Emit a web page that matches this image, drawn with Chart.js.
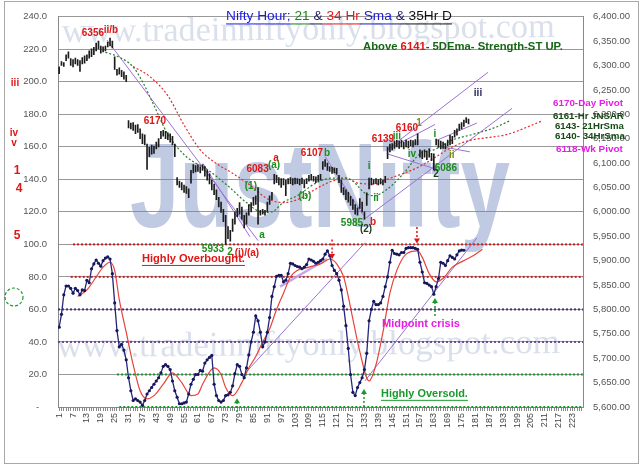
<!DOCTYPE html>
<html><head><meta charset="utf-8">
<script src="https://cdn.jsdelivr.net/npm/chart.js@4.4.1/dist/chart.umd.min.js"></script>
<style>html,body{margin:0;padding:0;background:#fff;}</style>
</head><body>
<canvas id="c" width="640" height="467"></canvas>
<script>
// ---------------- DATA ----------------
const xTickLabels = ['1','7','13','19','25','31','37','43','49','55','61','67','73','79','85','91','97','103','109','115','121','127','133','139','145','151','157','163','169','175','181','187','193','199','205','211','217','223'];
const categoryCount = 227;

// Nifty hourly bars (low / high), one per hour
const priceLow = [
6283,6300,6298,6310,6315,6300,6297,6303,6300,6288,
6303,6305,6310,6315,6318,6322,6330,6334,6325,6328,
6330,6338,6340,6336,6292,6280,6282,6277,6272,6267,
6172,6170,6167,6160,6163,6150,6140,6137,6087,6113,
6118,6120,6129,6133,6150,6155,6150,6148,6143,6137,
6113,6055,6050,6045,6040,6038,6029,6059,6080,6082,
6083,6080,6085,6073,6065,6057,6045,6035,6025,6010,
5999,5980,5933,5945,5940,5960,5975,5990,5995,5985,
5967,5975,5993,6000,6013,6015,5975,5993,5995,5993,
6000,6015,6025,6057,6060,6055,6050,6055,6033,6057,
6058,6055,6057,6058,6055,6058,6049,6058,6063,6065,
6063,6060,6063,6065,6087,6093,6085,6083,6079,6080,
6077,6060,6040,6035,6025,6020,6013,6005,5995,5993,
6007,6000,5985,6013,6047,6055,6057,6058,6055,6057,
6055,6060,6109,6123,6127,6130,6133,6130,6133,6129,
6133,6131,6135,6133,6137,6137,6112,6109,6112,6107,
6112,6105,6086,6137,6132,6129,6130,6129,6135,6137,
6140,6153,6157,6167,6170,6175,6183,6180];
const priceHigh = [
6297,6308,6306,6322,6328,6314,6312,6315,6312,6310,
6316,6320,6322,6330,6334,6337,6346,6350,6340,6338,
6340,6348,6356,6350,6318,6292,6295,6290,6287,6280,
6187,6182,6183,6178,6179,6170,6160,6158,6139,6132,
6137,6135,6143,6150,6165,6167,6165,6162,6160,6155,
6139,6070,6063,6060,6055,6052,6047,6085,6097,6095,
6097,6093,6097,6093,6085,6078,6065,6057,6045,6030,
6020,6005,5993,5970,5962,5985,6000,6007,6019,6010,
5993,5998,6015,6019,6030,6033,6050,6003,6005,6003,
6020,6033,6040,6077,6075,6070,6068,6068,6065,6068,
6070,6068,6069,6068,6067,6069,6065,6068,6075,6077,
6073,6072,6075,6077,6103,6107,6100,6093,6091,6090,
6089,6075,6065,6050,6045,6040,6032,6025,6015,6008,
6027,6020,6000,6039,6069,6069,6066,6068,6066,6068,
6065,6073,6133,6139,6140,6145,6147,6145,6147,6143,
6147,6145,6147,6146,6148,6160,6127,6125,6127,6125,
6129,6120,6119,6149,6147,6145,6143,6140,6147,6157,
6155,6167,6170,6180,6183,6188,6193,6190];

// Oscillator (left axis), one per hour
const oscillator = [
49.1,57,69,74.4,74.4,73,70,73,71.6,69,
72,71.6,77.9,76.4,85,88,90.4,88.4,86.6,90,
91.6,92.3,91,82,64,47,37,38.5,35,29,
18,10,4,5,4,3,1,4,8,10,
12,14,16,18,21,25,26,25,23,16,
10,6,2,2,2.5,3,8,14,17,20,
20,22.5,22,27,29,30.5,31.7,14,7,4,
3,4,7,7.5,9,13,20.5,26,25,20,
18,24,32,40,46,56,53,46,37,40,
46,55,68,74,80.4,81,81,77,78,82,
88.4,88,87,86.4,86,85,86,87.6,91,90.4,
89.6,88.4,89,90,91,94,96,93,87,84,
82,78,72,62,50,36,20,9,7,12,
15,18,23,33,53,60,65,63,63,64,
68,74,80,89,96.4,94.4,94,93.6,95,95,
97.5,98,98,98,97.5,97,89,83,76.4,76,
75,74,69.4,74,79,89,88.4,87,90,93,
92,91,93.6,96,96.5,96.4];

// Oscillator signal line (hour, value)
const signalHour = [9,13,17,20,23,25,27,30,33,36,39,42,46,50,54,58,61,63,68,71,73,76,80,83,86,89,92,95,98,101,104,109,114,118,121,124,126,128,131,135,138,141,144,147,151,156,158,161,164,167,171,176,180,184];
const signalValue = [68,72,80,86,89,84,66,46,26,10,5,7,14,21,15,7,8,14,24,20,12,7,15,24,31,40,48,60,70,80,84,86,88,91,88,80,68,54,34,16,26,46,70,84,94,96,92,82,77,79,86,90,93,97];

// 21 Hr SMA and 34 Hr SMA (hour, price)
const sma21Hour = [21,27,33,37,42,48,56,65,74,82,89,93,98,104,112,119,125,128,133,137,143,150,157,163,171,180,189,196];
const sma21Value = [6327,6317,6297,6267,6218,6159,6113,6087,6053,6019,5999,6000,6020,6033,6059,6069,6069,6063,6039,6033,6047,6079,6119,6127,6147,6159,6172,6187];
const sma34Hour = [33,40,48,55,62,69,76,84,91,98,105,112,119,125,130,138,143,150,157,164,171,179,186,195,203,210];
const sma34Value = [6298,6278,6238,6178,6127,6099,6079,6053,6027,6019,6027,6047,6063,6069,6059,6057,6067,6079,6093,6113,6133,6147,6152,6159,6173,6187];

// Oscillator zones
const levelValues = [100, 80, 60, 40, 20, 0];
const levelFrom   = [7, 6, 0.5, 0.5, 26, 27];

// Trend lines [hour1, value1, hour2, value2]
const priceTrendLines = [
  [21.7,6352, 87,5941],
  [63.2,6099, 83.5,5949],
  [116,6113, 132.5,5993],
  [142.7,6127, 186.4,6286],
  [132.4,5983, 196.8,6212],
  [142.7,6127, 163.5,6179],
  [142.7,6119, 164.4,6087],
  [164.4,6147, 181.6,6182],
  [167,6133, 178.6,6123]
];
const oscTrendLines = [
  [82.2,22, 133.2,101],
  [133.2,16, 181.6,104]
];
const oscTrendLinesLight = [
  [96.5,74, 116.8,91]
];

// Wave labels [text, hour, price]
const waveLabels = [
  ['6356',15.6,6366,'r'],['ii/b',23.4,6372,'r'],['6170',42.4,6185,'r'],['6083',86.8,6087,'r'],
  ['(1)',83.9,6053,'g'],['a',94.8,6110,'r'],['(a)',93.9,6096,'g'],['6107',110.3,6120,'r'],
  ['b',116.8,6120,'g'],['(b)',107.3,6031,'g'],['5933',67.5,5923,'g'],['2',74.9,5917,'g'],
  ['(i)/(a)',82.2,5916,'r'],['a',88.7,5953,'g'],['5985',127.6,5977,'g'],['(2)',133.7,5965,'k'],
  ['b',136.7,5979,'r'],['i',135,6093,'g'],['ii',138,6027,'g'],['6139',141,6149,'r'],
  ['iii',147,6155,'g'],['6160',151.4,6171,'r'],['1',156.6,6181,'o'],['iv',153.5,6119,'g'],
  ['6086',168.2,6089,'g'],['2',163.9,6077,'k'],['i',163.5,6159,'g'],['ii',170.8,6115,'o'],
  ['iii',182.1,6244,'n']
];
// Arrows on oscillator [hour, fromValue, toValue, colourKey]
const oscArrows = [[119,103,91,'r'],[155.7,110.7,100.5,'r'],[77.9,-3,5.4,'g'],[132.8,0,11,'g'],[163.5,56,67,'g']];

// ---------------- STYLE ----------------
const FONT = '"Liberation Sans", Arial, sans-serif';
const COL = {r:'#e01515', g:'#1c8c1c', k:'#1c3c1c', o:'#7d8a10', n:'#2a2a60'};
const levelColors = ['#d41c1c','#d41c1c','#4b2a6e','#6a4a8e','#1a9a2a','#1a9a2a'];
const PURPLE = '#9b72d6';

const pts = (xs, ys) => xs.map((x,i)=>({x, y: ys[i]}));
const datasets = [];

datasets.push({type:'line', yAxisID:'yL', data: oscillator.map((v,i)=>({x:i+1,y:v})),
  borderColor:'#25257a', borderWidth:1.3, pointRadius:1.6, pointBackgroundColor:'#17175a',
  pointBorderWidth:0, tension:0, order:1});
datasets.push({type:'line', yAxisID:'yL', data: pts(signalHour, signalValue),
  borderColor:'#e8433a', borderWidth:1.2, pointRadius:0, cubicInterpolationMode:'monotone', order:2});
datasets.push({type:'bar', yAxisID:'yR', data: priceLow.map((lo,i)=>({x:i+1, y:[lo, priceHigh[i]]})),
  backgroundColor:'#1c1c1c', barThickness:1, order:3});
datasets.push({type:'line', yAxisID:'yR', data: pts(sma21Hour, sma21Value),
  borderColor:'#2b7d2b', borderWidth:1.2, borderDash:[2,2], pointRadius:0, cubicInterpolationMode:'monotone', order:4});
datasets.push({type:'line', yAxisID:'yR', data: pts(sma34Hour, sma34Value),
  borderColor:'#e52a2a', borderWidth:1.2, borderDash:[2,2], pointRadius:0, cubicInterpolationMode:'monotone', order:5});
priceTrendLines.forEach(t => datasets.push({type:'line', yAxisID:'yR', data:[{x:t[0],y:t[1]},{x:t[2],y:t[3]}],
  borderColor:PURPLE, borderWidth:1, pointRadius:0, order:6}));
oscTrendLines.forEach(t => datasets.push({type:'line', yAxisID:'yL', data:[{x:t[0],y:t[1]},{x:t[2],y:t[3]}],
  borderColor:PURPLE, borderWidth:1, pointRadius:0, order:6}));
oscTrendLinesLight.forEach(t => datasets.push({type:'line', yAxisID:'yL', data:[{x:t[0],y:t[1]},{x:t[2],y:t[3]}],
  borderColor:'rgba(190,160,230,0.9)', borderWidth:2.5, pointRadius:0, order:6}));
levelValues.forEach((v,i) => datasets.push({type:'line', yAxisID:'yL', data:[{x:levelFrom[i],y:v},{x:227.5,y:v}],
  borderColor:levelColors[i], borderWidth:2, borderDash:[2,2], pointRadius:0, order:7, clip:false}));

// ---------------- PLUGINS ----------------
function fitText(ctx, segs, x, y, width, weight, underline) {
  const full = segs.map(s=>s[0]).join('');
  ctx.font = `${weight} 20px ${FONT}`;
  const size = 20 * width / ctx.measureText(full).width;
  ctx.font = `${weight} ${size}px ${FONT}`;
  ctx.textBaseline = 'middle'; ctx.textAlign = 'left';
  let cx = x;
  segs.forEach(([t,c]) => {
    ctx.fillStyle = c; ctx.fillText(t, cx, y);
    const w = ctx.measureText(t).width;
    if (underline) { ctx.strokeStyle = c; ctx.lineWidth = 1; ctx.setLineDash([]);
      ctx.beginPath(); ctx.moveTo(cx, y + size*0.58); ctx.lineTo(cx + w, y + size*0.58); ctx.stroke(); }
    cx += w;
  });
}

const bgPlugin = {
  id:'bg',
  beforeDraw(chart) {
    const c = chart.ctx; c.save();
    c.fillStyle = '#fff'; c.fillRect(0,0,chart.width,chart.height);
    c.strokeStyle = '#a8a8a8'; c.lineWidth = 1;
    c.strokeRect(4.5, 1.5, 634, 462);
    c.restore();
  }
};

const watermarkPlugin = {
  id:'wm',
  beforeDatasetsDraw(chart) {
    const c = chart.ctx; c.save();
    const url = 'www.tradeinniftyonly.blogspot.com';
    c.fillStyle = 'rgba(130,150,190,0.30)';
    c.textBaseline = 'alphabetic'; c.textAlign = 'left';
    [[62,42,493,-0.01],[57,357,503,-0.008]].forEach(([x,y,w,rot]) => {
      c.save(); c.translate(x,y); c.rotate(rot);
      c.font = '30px "Liberation Serif", "DejaVu Serif", serif';
      const m = c.measureText(url).width;
      c.font = (30*w/m) + 'px "Liberation Serif", "DejaVu Serif", serif';
      c.fillText(url, 0, 0); c.restore();
    });
    c.save();
    c.font = 'bold 121px "Liberation Sans", Arial, sans-serif';
    const jw = c.measureText('JustNifty').width;
    c.translate(130, 227); c.scale(380/jw, 1);
    c.fillStyle = 'rgba(105,128,185,0.42)';
    c.fillText('JustNifty', 0, 0);
    c.restore();
    c.restore();
  }
};

const annotPlugin = {
  id:'annot',
  afterDraw(chart) {
    const c = chart.ctx, sx = chart.scales.x, sR = chart.scales.yR, sL = chart.scales.yL;
    c.save();
    c.textAlign = 'center'; c.textBaseline = 'middle';
    waveLabels.forEach(([t,h,p,k]) => {
      c.font = `bold 10px ${FONT}`; c.fillStyle = COL[k];
      c.fillText(t, sx.getPixelForValue(h), sR.getPixelForValue(p));
    });
    oscArrows.forEach(([h,a,b,k]) => {
      const x = sx.getPixelForValue(h), y1 = sL.getPixelForValue(a), y2 = sL.getPixelForValue(b);
      const col = k==='r' ? '#e01515' : '#1a9a2a';
      c.strokeStyle = col; c.fillStyle = col; c.lineWidth = 1.5; c.setLineDash([2,2]);
      const dir = Math.sign(y2 - y1);
      c.beginPath(); c.moveTo(x, y1); c.lineTo(x, y2 - dir*4); c.stroke();
      c.setLineDash([]);
      c.beginPath(); c.moveTo(x-3, y2 - dir*5); c.lineTo(x+3, y2 - dir*5); c.lineTo(x, y2); c.closePath(); c.fill();
    });
    c.textAlign = 'center';
    [['iii',15,83,10],['iv',14,133,10],['v',14,143,10],['1',17,171,12],['4',19,189,12],['5',17,236,12]].forEach(([t,x,y,s]) => {
      c.font = `bold ${s}px ${FONT}`; c.fillStyle = '#e01515'; c.fillText(t, x, y);
    });
    c.strokeStyle = '#1a9a2a'; c.lineWidth = 1.2; c.setLineDash([3,2]);
    c.beginPath(); c.arc(14, 297, 9, 0, Math.PI*2); c.stroke(); c.setLineDash([]);
    fitText(c, [['Nifty Hour;','#1a1ae6'],[' 21','#138a13'],[' &','#1a1a60'],[' 34 Hr','#ea1515'],[' Sma','#1a1ad0'],[' &','#1a1a60'],[' 35Hr D','#111']], 226, 16, 226, 'normal', true);
    fitText(c, [['Above ','#166616'],['6141','#e01515'],['- 5DEma- Strength-ST UP.','#166616']], 363, 47, 200, 'bold', false);
    fitText(c, [['6170-Day Pivot','#e41ee4']], 553, 103, 70, 'bold', false);
    fitText(c, [['6161-Hr JNSAR','#144a14']], 553, 116, 71, 'bold', false);
    fitText(c, [['6143- 21HrSma','#144a14']], 555, 126, 69, 'bold', false);
    fitText(c, [['6140- 34HrSma','#144a14']], 555, 136, 70, 'bold', false);
    fitText(c, [['6118-Wk Pivot','#e41ee4']], 556, 149, 67, 'bold', false);
    fitText(c, [['Highly Overbought.','#e01515']], 142, 259, 103, 'bold', true);
    fitText(c, [['Midpoint crisis','#e41ee4']], 382, 324, 78, 'bold', false);
    fitText(c, [['Highly Oversold.','#1a9a2a']], 381, 394, 87, 'bold', true);
    c.restore();
  }
};

// ---------------- CHART ----------------
new Chart(document.getElementById('c'), {
  type:'line',
  data:{ datasets },
  options:{
    responsive:false, animation:false, devicePixelRatio:1,
    layout:{ padding:{ top:6, left:0, right:0, bottom:0 } },
    plugins:{ legend:{display:false}, tooltip:{enabled:false} },
    scales:{
      x:{ type:'linear', min:0.5, max:categoryCount + 0.5, offset:false,
        afterBuildTicks: s => { const t=[]; for (let v=1; v<=categoryCount; v++) t.push({value:v}); s.ticks = t; },
        afterFit: s => { s.height = 60; },
        ticks:{ autoSkip:false, maxRotation:90, minRotation:90, padding:2, color:'#444',
          font:{size:9, family:FONT}, callback: v => xTickLabels.includes(String(v)) ? String(v) : '' },
        grid:{ drawOnChartArea:false, drawTicks:true, tickLength:4, color:'#8a8a8a', offset:false },
        border:{ color:'#888' } },
      yL:{ position:'left', min:0, max:240,
        afterFit: s => { s.width = 58; },
        ticks:{ stepSize:20, padding:11, color:'#555', font:{size:9.5, family:FONT},
          callback: v => v === 0 ? '-   ' : v.toFixed(1) },
        grid:{ color:'#999', drawTicks:false }, border:{ color:'#888' } },
      yR:{ position:'right', min:5600, max:6400,
        afterFit: s => { s.width = 57; },
        ticks:{ stepSize:50, padding:10, color:'#555', font:{size:9.5, family:FONT},
          callback: v => v.toLocaleString('en-US',{minimumFractionDigits:2, maximumFractionDigits:2}) },
        grid:{ drawOnChartArea:false, drawTicks:false }, border:{ color:'#888' } }
    }
  },
  plugins:[bgPlugin, watermarkPlugin, annotPlugin]
});
</script>
</body></html>
